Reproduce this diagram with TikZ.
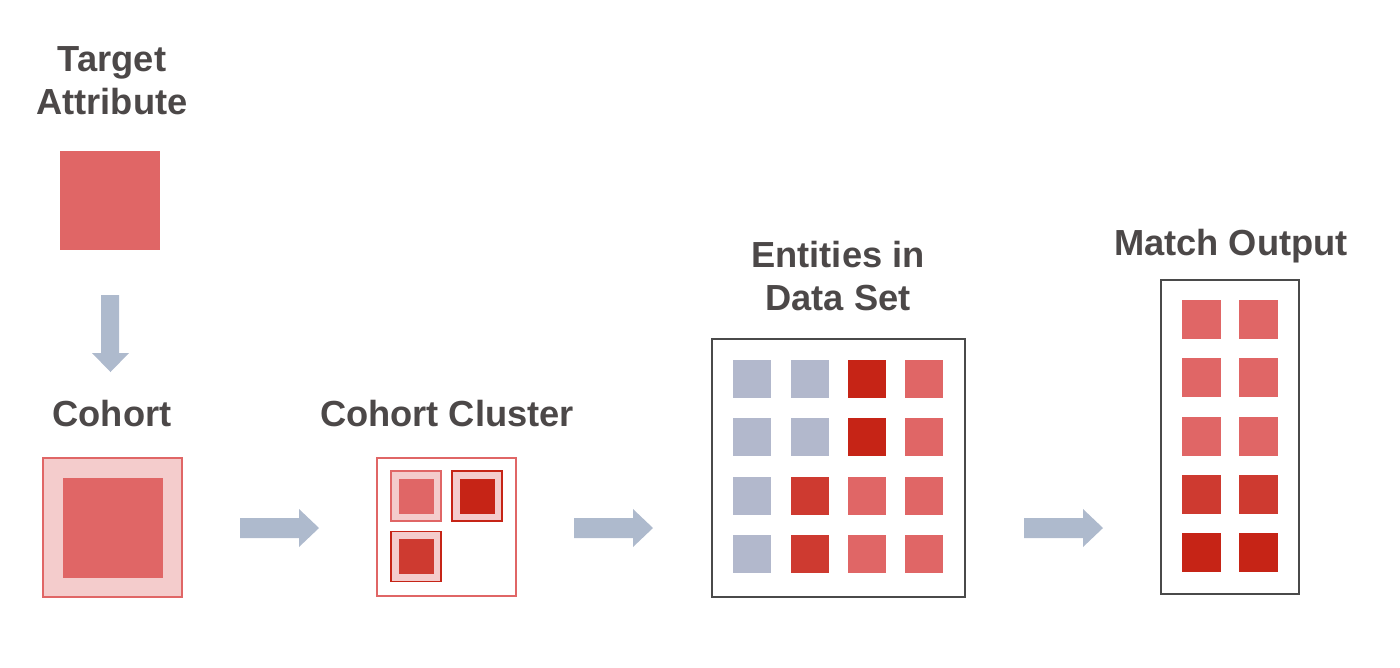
\documentclass[tikz,border=0pt]{standalone}
\usepackage{fontspec}
\setmainfont{Liberation Sans}
\usetikzlibrary{positioning}

\definecolor{txtgray}{RGB}{76,72,72}
\definecolor{framegray}{RGB}{74,74,74}
\definecolor{redtile}{RGB}{224,102,102}
\definecolor{pinktile}{RGB}{244,204,204}
\definecolor{deeptile}{RGB}{198,36,22}
\definecolor{mixtile}{RGB}{206,58,48}
\definecolor{bluetile}{RGB}{178,184,204}
\definecolor{arrowblue}{RGB}{174,186,205}

\begin{document}
\begin{tikzpicture}[
    x=0.025cm,y=-0.025cm,
    every node/.style={inner sep=0pt, outer sep=0pt},
    title/.style={anchor=base, align=center, text=txtgray,
        font=\fontsize{25.8}{30}\selectfont\bfseries},
    frame/.style={draw=framegray, line width=1.4pt, fill=white},
    redframe/.style={draw=redtile, line width=1.1pt},
    tile/.style={minimum size=38*0.025cm},
    bigtile/.style={minimum size=39*0.025cm},
    subbox/.style={fill=pinktile, line width=1.1pt, minimum size=50*0.025cm},
    subcore/.style={minimum size=35*0.025cm},
    blockarrow/.style={fill=arrowblue, draw=none}
]
    \useasboundingbox (0,0) rectangle (1400,667);

    % titles (base = last line)
    \node[title] (ttarget) at (112,114) {Target\\Attribute};
    \node[title] (tcohort) at (112,426) {Cohort};
    \node[title] (tcluster) at (447,426) {Cohort Cluster};
    \node[title] (tents) at (838,310) {Entities in\\Data Set};
    \node[title] (tmatch) at (1231,255) {Match Output};

    % target attribute
    \node[fill=redtile, minimum width=100*0.025cm, minimum height=99*0.025cm] (target) at (110,200.5) {};
    \fill[blockarrow] (101,295) -- (119,295) -- (119,353) -- (129,353) -- (110.5,372)
        -- (92,353) -- (101,353) -- cycle;

    % cohort
    \node[redframe, fill=pinktile, minimum size=139*0.025cm] (cohort) at (112.5,527.5) {};
    \node[fill=redtile, minimum size=100*0.025cm] (cohortcore) at (cohort.center) {};

    % cohort cluster
    \node[redframe, fill=white, minimum width=139*0.025cm, minimum height=138*0.025cm] (cluster) at (446.5,527) {};
    \node[subbox, draw=redtile] (sub1) at (416,496) {};
    \node[subcore, fill=redtile] at (sub1.center) {};
    \node[subbox, draw=deeptile] (sub2) at (477,496) {};
    \node[subcore, fill=deeptile] at (sub2.center) {};
    \node[subbox, draw=deeptile] (sub3) at (416,556.5) {};
    \node[subcore, fill=mixtile] at (sub3.center) {};

    % entities in data set
    \node[frame, minimum width=253*0.025cm, minimum height=258*0.025cm] (ents) at (838.5,468) {};
    \foreach \r/\y/\ca/\cb/\cc/\cd in {1/379/bluetile/bluetile/deeptile/redtile,
                                        2/437/bluetile/bluetile/deeptile/redtile,
                                        3/496/bluetile/mixtile/redtile/redtile,
                                        4/554/bluetile/mixtile/redtile/redtile} {
        \foreach \c/\x/\col in {1/752/\ca, 2/809.5/\cb, 3/867/\cc, 4/924/\cd} {
            \node[tile, fill=\col] (e\r\c) at (\x,\y) {};
        }
    }

    % match output
    \node[frame, minimum width=138*0.025cm, minimum height=314*0.025cm] (match) at (1230,437) {};
    \foreach \r/\y/\col in {1/319/redtile, 2/377.5/redtile, 3/436/redtile, 4/494/mixtile, 5/552.5/deeptile} {
        \node[bigtile, fill=\col] (m\r1) at (1201.5,\y) {};
        \node[bigtile, fill=\col] (m\r2) at (1258.5,\y) {};
    }

    % flow arrows
    \foreach \x in {240,574,1024} {
        \fill[blockarrow] (\x,518) -- (\x+59,518) -- (\x+59,509) -- (\x+79,528)
            -- (\x+59,547) -- (\x+59,538) -- (\x,538) -- cycle;
    }
\end{tikzpicture}
\end{document}
